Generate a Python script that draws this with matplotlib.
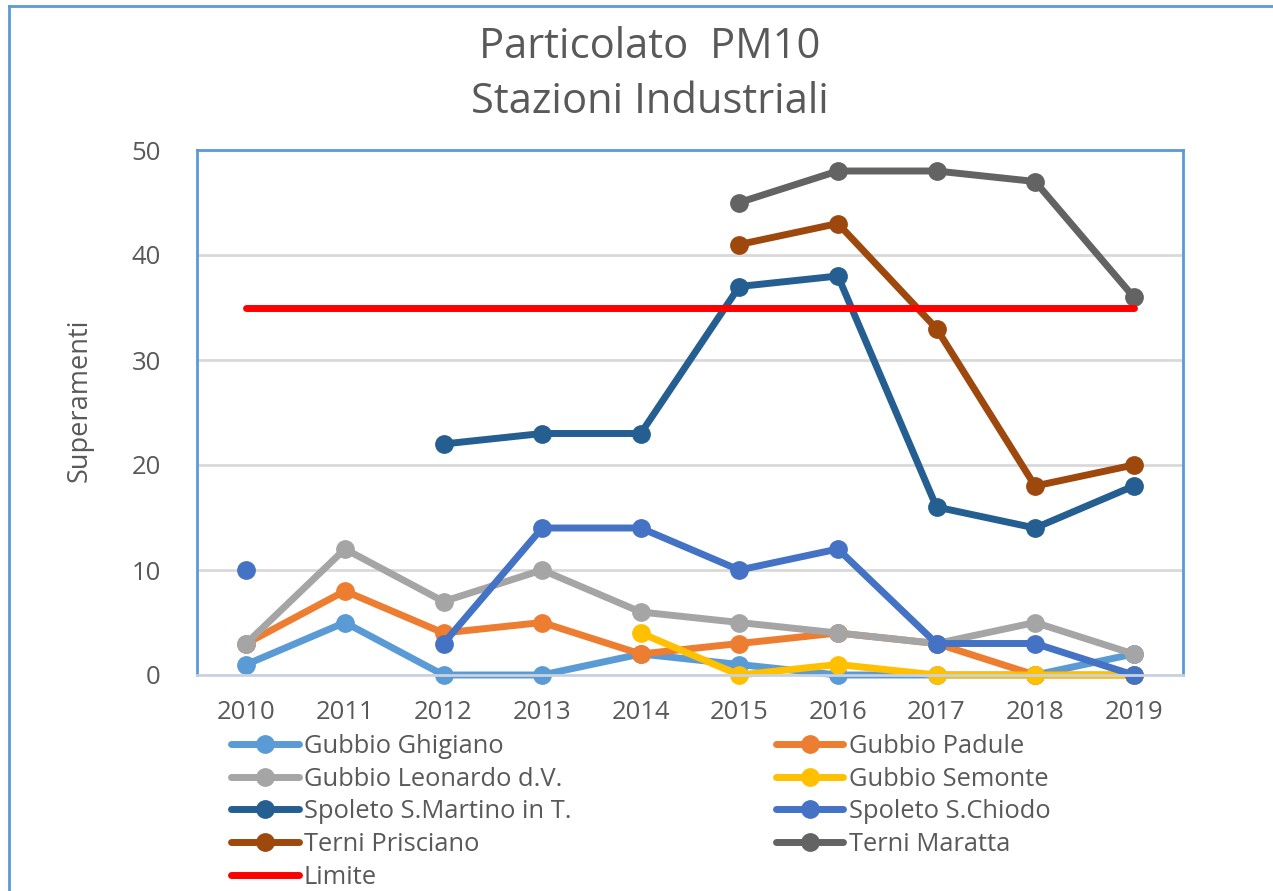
import numpy as np
import matplotlib
matplotlib.use("Agg")
import matplotlib.pyplot as plt
from matplotlib.lines import Line2D

years = ["2010", "2011", "2012", "2013", "2014", "2015", "2016", "2017", "2018", "2019"]
nan = np.nan
gubbio_ghigiano = [1, 5, 0, 0, 2, 1, 0, 0, 0, 2]
gubbio_padule = [3, 8, 4, 5, 2, 3, 4, 3, 0, 0]
gubbio_leonardo = [3, 12, 7, 10, 6, 5, 4, 3, 5, 2]
gubbio_semonte = [nan, nan, nan, nan, 4, 0, 1, 0, 0, 0]
spoleto_martino = [nan, nan, 22, 23, 23, 37, 38, 16, 14, 18]
spoleto_chiodo = [10, nan, 3, 14, 14, 10, 12, 3, 3, 0]
terni_prisciano = [nan, nan, nan, nan, nan, 41, 43, 33, 18, 20]
terni_maratta = [nan, nan, nan, nan, nan, 45, 48, 48, 47, 36]
limite = [35] * 10

series = [
    ("Gubbio Ghigiano", gubbio_ghigiano, "#5B9BD5"),
    ("Gubbio Padule", gubbio_padule, "#ED7D31"),
    ("Gubbio Leonardo d.V.", gubbio_leonardo, "#A5A5A5"),
    ("Gubbio Semonte", gubbio_semonte, "#FFC000"),
    ("Spoleto S.Martino in T.", spoleto_martino, "#255E91"),
    ("Spoleto S.Chiodo", spoleto_chiodo, "#4472C4"),
    ("Terni Prisciano", terni_prisciano, "#9E480E"),
    ("Terni Maratta", terni_maratta, "#636363"),
]

plt.rcParams['font.family'] = ['Open Sans', 'DejaVu Sans']
TXT = "#595959"
BLUE = "#5B9BD5"

W, H = 1273, 891
fig = plt.figure(figsize=(W / 100, H / 100), dpi=100)
ax = fig.add_axes([197 / W, 1 - 675 / H, (1183 - 197) / W, (675 - 150) / H])

x = np.arange(len(years))
handles = {}
for name, vals, col in series:
    ln, = ax.plot(x, vals, color=col, lw=5, marker="o", markersize=12.5,
                  solid_capstyle="round", solid_joinstyle="round", clip_on=False, label=name)
    handles[name] = ln
ln, = ax.plot(x, limite, color="#FF0000", lw=5, solid_capstyle="round", clip_on=False, label="Limite")
handles["Limite"] = ln

ax.set_xlim(-0.5, len(years) - 0.5)
ax.set_ylim(0, 50)
ax.set_yticks([0, 10, 20, 30, 40, 50])
ax.set_xticks(x)
ax.set_xticklabels(years)
ax.tick_params(axis="both", length=0, labelsize=18.5, colors=TXT)
ax.tick_params(axis="y", pad=26)
ax.tick_params(axis="x", pad=18)
ax.grid(axis="y", color="#D9D9D9", lw=2)
ax.set_axisbelow(True)
for s in ["left", "top", "right"]:
    ax.spines[s].set_color(BLUE)
    ax.spines[s].set_linewidth(2)
ax.spines["bottom"].set_color("#C9D3DF")
ax.spines["bottom"].set_linewidth(2)

fig.text(80 / W, 1 - 400 / H, "Superamenti", rotation=90, ha="center", va="center",
         fontsize=19.5, color=TXT)

fig.text(650 / W, 1 - 47 / H, "Particolato  PM10", ha="center", va="center", fontsize=30, color=TXT)
fig.text(650 / W, 1 - 102 / H, "Stazioni Industriali", ha="center", va="center", fontsize=30, color=TXT)

order = ["Gubbio Ghigiano", "Gubbio Leonardo d.V.", "Spoleto S.Martino in T.", "Terni Prisciano", "Limite",
         "Gubbio Padule", "Gubbio Semonte", "Spoleto S.Chiodo", "Terni Maratta"]
leg = fig.legend([handles[n] for n in order], order, ncol=2, loc="upper left",
                 bbox_to_anchor=(231 / W, 1 - 734 / H), frameon=False, fontsize=18.4,
                 handlelength=2.65, handletextpad=0.2, columnspacing=8.0, labelspacing=0.3,
                 numpoints=1, borderpad=0, borderaxespad=0)
for t in leg.get_texts():
    t.set_color(TXT)

# outer chart frame
fig.add_artist(Line2D([9 / W, 9 / W], [0, 1 - 6 / H], transform=fig.transFigure, color=BLUE, lw=2))
fig.add_artist(Line2D([9 / W, 1], [1 - 6 / H, 1 - 6 / H], transform=fig.transFigure, color=BLUE, lw=2))

fig.savefig("out.png", dpi=100, facecolor="white")
